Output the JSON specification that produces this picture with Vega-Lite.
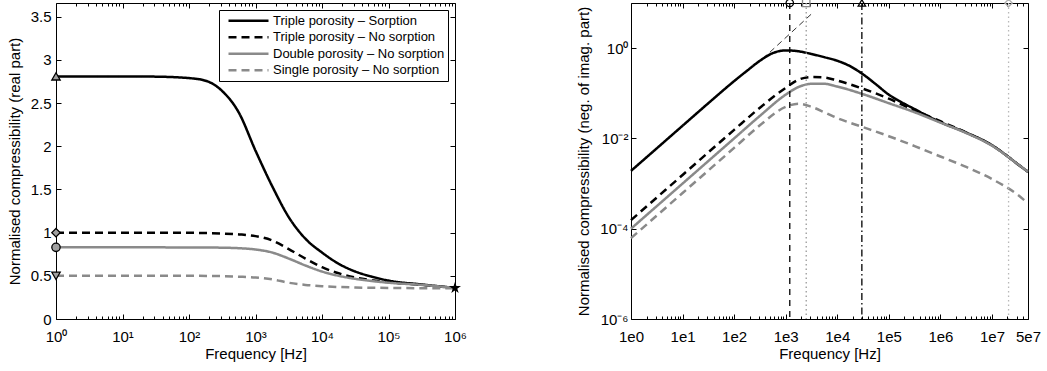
{
  "$schema": "https://vega.github.io/schema/vega-lite/v6.json",
  "background": "white",
  "padding": {"left": 6, "top": -4, "right": 2, "bottom": 2},
  "spacing": 109,
  "config": {
    "font": "Liberation Sans",
    "view": {"stroke": "black", "strokeWidth": 1},
    "axis": {
      "grid": false, "domain": false, "tickColor": "black", "tickWidth": 1,
      "labelColor": "black", "titleColor": "black", "labelFontSize": 15, "titleFontSize": 15,
      "titleFontWeight": "normal", "labelFont": "Liberation Sans", "titleFont": "Liberation Sans",
      "labelFlush": false, "labelOverlap": false
    }
  },
  "resolve": {"scale": {"color": "independent", "strokeDash": "independent", "shape": "independent", "fill": "independent", "size": "independent"}},
  "datasets": {
    "leftMarkers": [
      {"f": 1, "v": 2.81, "m": "TS0"},
      {"f": 1, "v": 1.0, "m": "TN0"},
      {"f": 1, "v": 0.83, "m": "DN0"},
      {"f": 1, "v": 0.5, "m": "SN0"},
      {"f": 1000000, "v": 0.36, "m": "HF"}
    ],
    "rightMarks": [
      {"f": 1200, "k": "c1"},
      {"f": 2500, "k": "c2"},
      {"f": 30000, "k": "c3"},
      {"f": 21000000, "k": "c4"}
    ]
  },
  "hconcat": [
    {
      "width": 399,
      "height": 316,
      "resolve": {"axis": {"x": "independent", "y": "independent"}},
      "layer": [
        {
          "data": {"values": [
            {"f": 1, "v": 2.81, "s": "Triple porosity – Sorption"},
            {"f": 10, "v": 2.81, "s": "Triple porosity – Sorption"},
            {"f": 31.6, "v": 2.807, "s": "Triple porosity – Sorption"},
            {"f": 100, "v": 2.79, "s": "Triple porosity – Sorption"},
            {"f": 178, "v": 2.76, "s": "Triple porosity – Sorption"},
            {"f": 316, "v": 2.64, "s": "Triple porosity – Sorption"},
            {"f": 562, "v": 2.39, "s": "Triple porosity – Sorption"},
            {"f": 1000, "v": 1.95, "s": "Triple porosity – Sorption"},
            {"f": 1778, "v": 1.54, "s": "Triple porosity – Sorption"},
            {"f": 3162, "v": 1.18, "s": "Triple porosity – Sorption"},
            {"f": 5623, "v": 0.93, "s": "Triple porosity – Sorption"},
            {"f": 10000, "v": 0.77, "s": "Triple porosity – Sorption"},
            {"f": 17783, "v": 0.64, "s": "Triple porosity – Sorption"},
            {"f": 31623, "v": 0.55, "s": "Triple porosity – Sorption"},
            {"f": 56234, "v": 0.49, "s": "Triple porosity – Sorption"},
            {"f": 100000, "v": 0.445, "s": "Triple porosity – Sorption"},
            {"f": 316228, "v": 0.4, "s": "Triple porosity – Sorption"},
            {"f": 1000000, "v": 0.36, "s": "Triple porosity – Sorption"},
            {"f": 1, "v": 1.0, "s": "Triple porosity – No sorption"},
            {"f": 10, "v": 1.0, "s": "Triple porosity – No sorption"},
            {"f": 100, "v": 0.998, "s": "Triple porosity – No sorption"},
            {"f": 178, "v": 0.996, "s": "Triple porosity – No sorption"},
            {"f": 316, "v": 0.99, "s": "Triple porosity – No sorption"},
            {"f": 562, "v": 0.98, "s": "Triple porosity – No sorption"},
            {"f": 1000, "v": 0.96, "s": "Triple porosity – No sorption"},
            {"f": 1778, "v": 0.91, "s": "Triple porosity – No sorption"},
            {"f": 3162, "v": 0.81, "s": "Triple porosity – No sorption"},
            {"f": 5623, "v": 0.7, "s": "Triple porosity – No sorption"},
            {"f": 10000, "v": 0.6, "s": "Triple porosity – No sorption"},
            {"f": 17783, "v": 0.53, "s": "Triple porosity – No sorption"},
            {"f": 31623, "v": 0.48, "s": "Triple porosity – No sorption"},
            {"f": 56234, "v": 0.45, "s": "Triple porosity – No sorption"},
            {"f": 100000, "v": 0.425, "s": "Triple porosity – No sorption"},
            {"f": 316228, "v": 0.395, "s": "Triple porosity – No sorption"},
            {"f": 1000000, "v": 0.36, "s": "Triple porosity – No sorption"},
            {"f": 1, "v": 0.83, "s": "Double porosity – No sorption"},
            {"f": 10, "v": 0.83, "s": "Double porosity – No sorption"},
            {"f": 100, "v": 0.829, "s": "Double porosity – No sorption"},
            {"f": 316, "v": 0.826, "s": "Double porosity – No sorption"},
            {"f": 562, "v": 0.82, "s": "Double porosity – No sorption"},
            {"f": 1000, "v": 0.805, "s": "Double porosity – No sorption"},
            {"f": 1778, "v": 0.77, "s": "Double porosity – No sorption"},
            {"f": 3162, "v": 0.7, "s": "Double porosity – No sorption"},
            {"f": 5623, "v": 0.62, "s": "Double porosity – No sorption"},
            {"f": 10000, "v": 0.55, "s": "Double porosity – No sorption"},
            {"f": 17783, "v": 0.5, "s": "Double porosity – No sorption"},
            {"f": 31623, "v": 0.465, "s": "Double porosity – No sorption"},
            {"f": 56234, "v": 0.44, "s": "Double porosity – No sorption"},
            {"f": 100000, "v": 0.42, "s": "Double porosity – No sorption"},
            {"f": 316228, "v": 0.395, "s": "Double porosity – No sorption"},
            {"f": 1000000, "v": 0.36, "s": "Double porosity – No sorption"},
            {"f": 1, "v": 0.5, "s": "Single porosity – No sorption"},
            {"f": 10, "v": 0.5, "s": "Single porosity – No sorption"},
            {"f": 100, "v": 0.5, "s": "Single porosity – No sorption"},
            {"f": 316, "v": 0.497, "s": "Single porosity – No sorption"},
            {"f": 562, "v": 0.49, "s": "Single porosity – No sorption"},
            {"f": 1000, "v": 0.48, "s": "Single porosity – No sorption"},
            {"f": 1778, "v": 0.46, "s": "Single porosity – No sorption"},
            {"f": 3162, "v": 0.42, "s": "Single porosity – No sorption"},
            {"f": 5623, "v": 0.395, "s": "Single porosity – No sorption"},
            {"f": 10000, "v": 0.38, "s": "Single porosity – No sorption"},
            {"f": 31623, "v": 0.365, "s": "Single porosity – No sorption"},
            {"f": 100000, "v": 0.36, "s": "Single porosity – No sorption"},
            {"f": 1000000, "v": 0.355, "s": "Single porosity – No sorption"}
          ]},
          "mark": {"type": "line", "strokeWidth": 2.5, "interpolate": "monotone"},
          "encoding": {
            "x": {"field": "f", "type": "quantitative",
              "scale": {"type": "log", "domain": [1, 1000000], "nice": false},
              "axis": {"orient": "bottom", "values": [1, 10, 100, 1000, 10000, 100000, 1000000],
                "labelExpr": "'10' + ['⁰','¹','²','³','⁴','⁵','⁶'][round(log(datum.value)/LN10)]",
                "tickSize": -5, "labelPadding": 15, "title": "Frequency [Hz]", "titlePadding": 2}},
            "y": {"field": "v", "type": "quantitative",
              "scale": {"domain": [0, 3.66], "nice": false, "zero": false},
              "axis": {"orient": "left", "values": [0, 0.5, 1, 1.5, 2, 2.5, 3, 3.5], "format": "~g",
                "tickSize": -5, "labelPadding": 10, "title": "Normalised compressibility (real part)", "titlePadding": 8}},
            "color": {"field": "s", "type": "nominal",
              "scale": {"domain": ["Triple porosity – Sorption", "Triple porosity – No sorption", "Double porosity – No sorption", "Single porosity – No sorption"],
                "range": ["#000000", "#000000", "#8a8a8a", "#8a8a8a"]},
              "legend": {"orient": "none", "legendX": 163, "legendY": 7, "title": null,
                "symbolType": "stroke", "symbolSize": 1600, "clipHeight": 15.5, "symbolStrokeWidth": 2.5,
                "labelFontSize": 13, "labelFont": "Liberation Sans", "labelColor": "black", "labelLimit": 400,
                "padding": 3, "rowPadding": 0.5, "strokeColor": "black", "fillColor": "white",
                "symbolOffset": 5, "labelOffset": 3}},
            "strokeDash": {"field": "s", "type": "nominal",
              "scale": {"domain": ["Triple porosity – Sorption", "Triple porosity – No sorption", "Double porosity – No sorption", "Single porosity – No sorption"],
                "range": [[1, 0], [8, 5], [1, 0], [8, 5]]},
              "legend": {"orient": "none", "legendX": 163, "legendY": 7, "title": null,
                "symbolType": "stroke", "symbolSize": 1600, "clipHeight": 15.5, "symbolStrokeWidth": 2.5,
                "labelFontSize": 13, "labelFont": "Liberation Sans", "labelColor": "black", "labelLimit": 400,
                "padding": 3, "rowPadding": 0.5, "strokeColor": "black", "fillColor": "white",
                "symbolOffset": 5, "labelOffset": 3}}
          }
        },
        {
          "data": {"name": "leftMarkers"},
          "mark": {"type": "point", "filled": true, "stroke": "black", "strokeWidth": 1.3, "opacity": 1},
          "encoding": {
            "x": {"field": "f", "type": "quantitative",
              "scale": {"type": "log", "domain": [1, 1000000], "nice": false},
              "axis": {"orient": "top", "values": [1, 10, 100, 1000, 10000, 100000, 1000000],
                "tickSize": -5, "labels": false, "title": null}},
            "y": {"field": "v", "type": "quantitative",
              "scale": {"domain": [0, 3.66], "nice": false, "zero": false},
              "axis": {"orient": "right", "values": [0, 0.5, 1, 1.5, 2, 2.5, 3, 3.5],
                "tickSize": -5, "labels": false, "title": null}},
            "shape": {"field": "m", "type": "nominal",
              "scale": {"domain": ["TS0", "TN0", "DN0", "SN0", "HF"],
                "range": ["triangle-up", "diamond", "circle", "triangle-down",
                  "M0,-1L0.2245,-0.309L0.951,-0.309L0.363,0.118L0.588,0.809L0,0.382L-0.588,0.809L-0.363,0.118L-0.951,-0.309L-0.2245,-0.309Z"]},
              "legend": null},
            "fill": {"field": "m", "type": "nominal",
              "scale": {"domain": ["TS0", "TN0", "DN0", "SN0", "HF"],
                "range": ["#a0a0a0", "#a0a0a0", "#a0a0a0", "#a0a0a0", "#000000"]},
              "legend": null},
            "size": {"field": "m", "type": "nominal",
              "scale": {"domain": ["TS0", "TN0", "DN0", "SN0", "HF"], "range": [70, 70, 70, 70, 160]},
              "legend": null}
          }
        },
        {
          "data": {"name": "leftMarkers"},
          "mark": {"type": "point", "opacity": 0},
          "encoding": {
            "x": {"field": "f", "type": "quantitative",
              "scale": {"type": "log", "domain": [1, 1000000], "nice": false},
              "axis": {"orient": "bottom", "tickSize": -3, "labels": false, "title": null,
                "values": [2,3,4,5,6,7,8,9,20,30,40,50,60,70,80,90,200,300,400,500,600,700,800,900,2000,3000,4000,5000,6000,7000,8000,9000,20000,30000,40000,50000,60000,70000,80000,90000,200000,300000,400000,500000,600000,700000,800000,900000]}},
            "y": {"field": "v", "type": "quantitative",
              "scale": {"domain": [0, 3.66], "nice": false, "zero": false}, "axis": null}
          }
        },
        {
          "data": {"name": "leftMarkers"},
          "mark": {"type": "point", "opacity": 0},
          "encoding": {
            "x": {"field": "f", "type": "quantitative",
              "scale": {"type": "log", "domain": [1, 1000000], "nice": false},
              "axis": {"orient": "top", "tickSize": -3, "labels": false, "title": null,
                "values": [2,3,4,5,6,7,8,9,20,30,40,50,60,70,80,90,200,300,400,500,600,700,800,900,2000,3000,4000,5000,6000,7000,8000,9000,20000,30000,40000,50000,60000,70000,80000,90000,200000,300000,400000,500000,600000,700000,800000,900000]}},
            "y": {"field": "v", "type": "quantitative",
              "scale": {"domain": [0, 3.66], "nice": false, "zero": false}, "axis": null}
          }
        }
      ]
    },
    {
      "width": 397,
      "height": 316,
      "resolve": {
        "axis": {"x": "independent", "y": "independent"},
        "scale": {"color": "independent", "strokeDash": "independent", "shape": "independent"}
      },
      "layer": [
        {
          "data": {"values": [
            {"f": 1, "v": 0.00191, "s": "Triple porosity – Sorption"},
            {"f": 3.16, "v": 0.00603, "s": "Triple porosity – Sorption"},
            {"f": 10, "v": 0.0191, "s": "Triple porosity – Sorption"},
            {"f": 31.6, "v": 0.0603, "s": "Triple porosity – Sorption"},
            {"f": 100, "v": 0.186, "s": "Triple porosity – Sorption"},
            {"f": 178, "v": 0.316, "s": "Triple porosity – Sorption"},
            {"f": 316, "v": 0.525, "s": "Triple porosity – Sorption"},
            {"f": 562, "v": 0.776, "s": "Triple porosity – Sorption"},
            {"f": 1000, "v": 0.891, "s": "Triple porosity – Sorption"},
            {"f": 1778, "v": 0.851, "s": "Triple porosity – Sorption"},
            {"f": 3162, "v": 0.741, "s": "Triple porosity – Sorption"},
            {"f": 5623, "v": 0.631, "s": "Triple porosity – Sorption"},
            {"f": 10000, "v": 0.525, "s": "Triple porosity – Sorption"},
            {"f": 17783, "v": 0.398, "s": "Triple porosity – Sorption"},
            {"f": 31623, "v": 0.263, "s": "Triple porosity – Sorption"},
            {"f": 56234, "v": 0.158, "s": "Triple porosity – Sorption"},
            {"f": 100000, "v": 0.0933, "s": "Triple porosity – Sorption"},
            {"f": 177828, "v": 0.0631, "s": "Triple porosity – Sorption"},
            {"f": 316228, "v": 0.0447, "s": "Triple porosity – Sorption"},
            {"f": 562341, "v": 0.0316, "s": "Triple porosity – Sorption"},
            {"f": 1000000, "v": 0.0229, "s": "Triple porosity – Sorption"},
            {"f": 3162278, "v": 0.0135, "s": "Triple porosity – Sorption"},
            {"f": 10000000, "v": 0.00708, "s": "Triple porosity – Sorption"},
            {"f": 17782794, "v": 0.00447, "s": "Triple porosity – Sorption"},
            {"f": 31622777, "v": 0.00269, "s": "Triple porosity – Sorption"},
            {"f": 50000000, "v": 0.00182, "s": "Triple porosity – Sorption"},
            {"f": 1, "v": 0.000155, "s": "Triple porosity – No sorption"},
            {"f": 10, "v": 0.00155, "s": "Triple porosity – No sorption"},
            {"f": 100, "v": 0.0155, "s": "Triple porosity – No sorption"},
            {"f": 316, "v": 0.0479, "s": "Triple porosity – No sorption"},
            {"f": 1000, "v": 0.132, "s": "Triple porosity – No sorption"},
            {"f": 1778, "v": 0.2, "s": "Triple porosity – No sorption"},
            {"f": 3162, "v": 0.229, "s": "Triple porosity – No sorption"},
            {"f": 5623, "v": 0.224, "s": "Triple porosity – No sorption"},
            {"f": 10000, "v": 0.191, "s": "Triple porosity – No sorption"},
            {"f": 31623, "v": 0.126, "s": "Triple porosity – No sorption"},
            {"f": 100000, "v": 0.0759, "s": "Triple porosity – No sorption"},
            {"f": 316228, "v": 0.0417, "s": "Triple porosity – No sorption"},
            {"f": 1000000, "v": 0.024, "s": "Triple porosity – No sorption"},
            {"f": 3162278, "v": 0.0135, "s": "Triple porosity – No sorption"},
            {"f": 10000000, "v": 0.00708, "s": "Triple porosity – No sorption"},
            {"f": 31622777, "v": 0.00269, "s": "Triple porosity – No sorption"},
            {"f": 50000000, "v": 0.00182, "s": "Triple porosity – No sorption"},
            {"f": 1, "v": 0.0001, "s": "Double porosity – No sorption"},
            {"f": 10, "v": 0.001, "s": "Double porosity – No sorption"},
            {"f": 100, "v": 0.01, "s": "Double porosity – No sorption"},
            {"f": 316, "v": 0.0316, "s": "Double porosity – No sorption"},
            {"f": 1000, "v": 0.0933, "s": "Double porosity – No sorption"},
            {"f": 1778, "v": 0.138, "s": "Double porosity – No sorption"},
            {"f": 3162, "v": 0.162, "s": "Double porosity – No sorption"},
            {"f": 5623, "v": 0.162, "s": "Double porosity – No sorption"},
            {"f": 10000, "v": 0.141, "s": "Double porosity – No sorption"},
            {"f": 31623, "v": 0.0955, "s": "Double porosity – No sorption"},
            {"f": 100000, "v": 0.0603, "s": "Double porosity – No sorption"},
            {"f": 316228, "v": 0.038, "s": "Double porosity – No sorption"},
            {"f": 1000000, "v": 0.0224, "s": "Double porosity – No sorption"},
            {"f": 3162278, "v": 0.0132, "s": "Double porosity – No sorption"},
            {"f": 10000000, "v": 0.00692, "s": "Double porosity – No sorption"},
            {"f": 31622777, "v": 0.00269, "s": "Double porosity – No sorption"},
            {"f": 50000000, "v": 0.00182, "s": "Double porosity – No sorption"},
            {"f": 1, "v": 0.0000617, "s": "Single porosity – No sorption"},
            {"f": 10, "v": 0.000617, "s": "Single porosity – No sorption"},
            {"f": 100, "v": 0.00617, "s": "Single porosity – No sorption"},
            {"f": 316, "v": 0.0195, "s": "Single porosity – No sorption"},
            {"f": 1000, "v": 0.0501, "s": "Single porosity – No sorption"},
            {"f": 1778, "v": 0.0589, "s": "Single porosity – No sorption"},
            {"f": 3162, "v": 0.0501, "s": "Single porosity – No sorption"},
            {"f": 5623, "v": 0.038, "s": "Single porosity – No sorption"},
            {"f": 10000, "v": 0.0282, "s": "Single porosity – No sorption"},
            {"f": 31623, "v": 0.0178, "s": "Single porosity – No sorption"},
            {"f": 100000, "v": 0.0112, "s": "Single porosity – No sorption"},
            {"f": 316228, "v": 0.00676, "s": "Single porosity – No sorption"},
            {"f": 1000000, "v": 0.00398, "s": "Single porosity – No sorption"},
            {"f": 3162278, "v": 0.00234, "s": "Single porosity – No sorption"},
            {"f": 10000000, "v": 0.00126, "s": "Single porosity – No sorption"},
            {"f": 31622777, "v": 0.000562, "s": "Single porosity – No sorption"},
            {"f": 50000000, "v": 0.000363, "s": "Single porosity – No sorption"}
          ]},
          "mark": {"type": "line", "strokeWidth": 2.5, "interpolate": "monotone"},
          "encoding": {
            "x": {"field": "f", "type": "quantitative",
              "scale": {"type": "log", "domain": [1, 50000000], "nice": false},
              "axis": {"orient": "bottom", "values": [1, 10, 100, 1000, 10000, 100000, 1000000, 10000000, 50000000],
                "labelExpr": "datum.value > 20000000 ? '5e7' : '1e' + round(log(datum.value)/LN10)",
                "tickSize": -5, "labelPadding": 15, "title": "Frequency [Hz]", "titlePadding": 2}},
            "y": {"field": "v", "type": "quantitative",
              "scale": {"type": "log", "domain": [0.000001, 10], "nice": false},
              "axis": {"orient": "left", "values": [0.000001, 0.0001, 0.01, 1],
                "labelExpr": "'10' + (datum.value < 0.5 ? '⁻' : '') + ['⁰','¹','²','³','⁴','⁵','⁶'][round(abs(log(datum.value)/LN10))]",
                "tickSize": -5, "labelPadding": 8, "title": "Normalised compressibility (neg. of imag. part)", "titlePadding": 8}},
            "color": {"field": "s", "type": "nominal",
              "scale": {"domain": ["Triple porosity – Sorption", "Triple porosity – No sorption", "Double porosity – No sorption", "Single porosity – No sorption"],
                "range": ["#000000", "#000000", "#8a8a8a", "#8a8a8a"]},
              "legend": null},
            "strokeDash": {"field": "s", "type": "nominal",
              "scale": {"domain": ["Triple porosity – Sorption", "Triple porosity – No sorption", "Double porosity – No sorption", "Single porosity – No sorption"],
                "range": [[1, 0], [8, 5], [1, 0], [8, 5]]},
              "legend": null}
          }
        },
        {
          "data": {"name": "rightMarks"},
          "mark": {"type": "rule", "strokeWidth": 1.3},
          "encoding": {
            "x": {"field": "f", "type": "quantitative",
              "scale": {"type": "log", "domain": [1, 50000000], "nice": false},
              "axis": {"orient": "top", "values": [1, 10, 100, 1000, 10000, 100000, 1000000, 10000000, 50000000],
                "tickSize": -5, "labels": false, "title": null}},
            "color": {"field": "k", "type": "nominal",
              "scale": {"domain": ["c1", "c2", "c3", "c4"], "range": ["#000000", "#999999", "#000000", "#b8b8b8"]},
              "legend": null},
            "strokeDash": {"field": "k", "type": "nominal",
              "scale": {"domain": ["c1", "c2", "c3", "c4"], "range": [[6, 5], [1.5, 3], [7, 3, 1.5, 3], [1.5, 3]]},
              "legend": null}
          }
        },
        {
          "data": {"values": [
            {"f": 355, "v": 0.575},
            {"f": 3548, "v": 6.46}
          ]},
          "mark": {"type": "line", "color": "black", "strokeWidth": 0.8, "strokeDash": [6, 4]},
          "encoding": {
            "x": {"field": "f", "type": "quantitative",
              "scale": {"type": "log", "domain": [1, 50000000], "nice": false},
              "axis": {"orient": "bottom", "tickSize": -3, "labels": false, "title": null,
                "values": [2,3,4,5,6,7,8,9,20,30,40,50,60,70,80,90,200,300,400,500,600,700,800,900,2000,3000,4000,5000,6000,7000,8000,9000,20000,30000,40000,50000,60000,70000,80000,90000,200000,300000,400000,500000,600000,700000,800000,900000,2000000,3000000,4000000,5000000,6000000,7000000,8000000,9000000,20000000,30000000,40000000]}},
            "y": {"field": "v", "type": "quantitative",
              "scale": {"type": "log", "domain": [0.000001, 10], "nice": false},
              "axis": {"orient": "right", "values": [0.000001, 0.0001, 0.01, 1],
                "tickSize": -5, "labels": false, "title": null}}
          }
        },
        {
          "data": {"name": "rightMarks"},
          "mark": {"type": "point", "filled": false, "strokeWidth": 1.3, "size": 55, "opacity": 1},
          "encoding": {
            "x": {"field": "f", "type": "quantitative",
              "scale": {"type": "log", "domain": [1, 50000000], "nice": false},
              "axis": {"orient": "top", "tickSize": -3, "labels": false, "title": null,
                "values": [2,3,4,5,6,7,8,9,20,30,40,50,60,70,80,90,200,300,400,500,600,700,800,900,2000,3000,4000,5000,6000,7000,8000,9000,20000,30000,40000,50000,60000,70000,80000,90000,200000,300000,400000,500000,600000,700000,800000,900000,2000000,3000000,4000000,5000000,6000000,7000000,8000000,9000000,20000000,30000000,40000000]}},
            "y": {"datum": 10, "type": "quantitative",
              "scale": {"type": "log", "domain": [0.000001, 10], "nice": false}, "axis": null},
            "shape": {"field": "k", "type": "nominal",
              "scale": {"domain": ["c1", "c2", "c3", "c4"], "range": ["circle", "square", "triangle-up", "diamond"]},
              "legend": null},
            "color": {"field": "k", "type": "nominal",
              "scale": {"domain": ["c1", "c2", "c3", "c4"], "range": ["#000000", "#888888", "#000000", "#b0b0b0"]},
              "legend": null}
          }
        }
      ]
    }
  ]
}
